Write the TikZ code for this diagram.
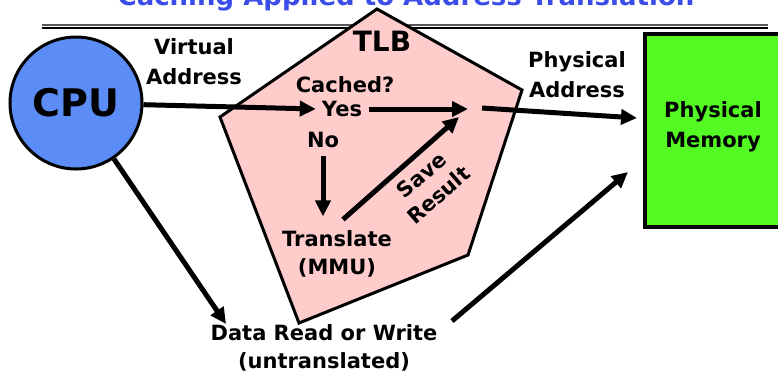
\documentclass[tikz,border=0pt]{standalone}
\usepackage{fontspec}
\setmainfont{DejaVu Sans}
\usetikzlibrary{arrows.meta}
\definecolor{cpublue}{HTML}{5C8DF7}
\definecolor{memgreen}{HTML}{54F923}
\definecolor{tlbpink}{HTML}{FFCCCC}
\definecolor{titleblue}{HTML}{3A4DE8}
\tikzset{
  lbl/.style={font=\bfseries\fontsize{21}{30}\selectfont, align=center, inner sep=2pt},
  arr/.style={line width=5pt, -{Triangle[length=16pt,width=15pt]}},
}
\begin{document}
\begin{tikzpicture}[x=1pt,y=-1pt]
\useasboundingbox (0,0) rectangle (778,376);
% title (partly cut off)
\node[anchor=base, text=titleblue, font=\bfseries\fontsize{26}{30}\selectfont, inner sep=0] (title) at (406,5) {Caching Applied to Address Translation};
% double rule
\draw[line width=1.4pt, gray!70!black] (42,25) -- (768,25);
\draw[line width=1.2pt, black] (42,28) -- (768,28);
% TLB pentagon
\draw[line width=3pt, fill=tlbpink, line join=miter] (377,9) -- (522,90) -- (468,255) -- (299,323) -- (220,117) -- cycle;
% Physical memory box
\node[draw, line width=3.5pt, fill=memgreen, minimum width=160pt, minimum height=193pt, inner sep=0, anchor=north west] (mem) at (643,32) {};
\node[lbl] (memlabel) at (713,127) {Physical\\Memory};
% CPU
\node[circle, draw, line width=3pt, fill=cpublue, minimum size=132pt, inner sep=0, font=\bfseries\fontsize{38}{40}\selectfont] (cpu) at (76,103) {CPU};
% labels
\node[lbl] (va) at (194,62) {Virtual\\Address};
\node[lbl] (pa) at (577,75) {Physical\\Address};
\node[font=\bfseries\fontsize{28}{30}\selectfont, inner sep=0] (tlb) at (382,41) {TLB};
\node[lbl] (cached) at (345,85) {Cached?};
\node[lbl] (yes) at (342,109) {Yes};
\node[lbl] (no) at (323,140) {No};
\node[lbl, font=\bfseries\fontsize{21}{28}\selectfont] (trans) at (337,254) {Translate\\(MMU)};
\node[lbl, font=\bfseries\fontsize{21}{26}\selectfont, rotate=41] (save) at (430,185) {Save\\Result};
\node[lbl, font=\bfseries\fontsize{21}{28}\selectfont] (data) at (324,348) {Data Read or Write\\(untranslated)};
% coordinates
\coordinate (junc) at (468,109);
\coordinate (jsave) at (459,117);
\coordinate (jout) at (482,108);
\coordinate (memtip) at (637,118);
\coordinate (dtip) at (226,324);
\coordinate (dstart) at (452,321);
\coordinate (mtip2) at (628,172);
% connectors
\draw[arr] (cpu) -- ([xshift=-4pt]yes.west);
\draw[arr, shorten <=5pt] (yes.east) -- (junc);
\draw[arr, shorten <=6pt, shorten >=12pt] (no.south) -- (no.south |- trans.north);
\draw[arr] ([shift={(6,-9)}]trans.north) -- (jsave);
\draw[arr] (jout) -- (memtip);
\draw[arr] (cpu) -- (dtip);
\draw[arr] (dstart) -- (mtip2);
\end{tikzpicture}
\end{document}
